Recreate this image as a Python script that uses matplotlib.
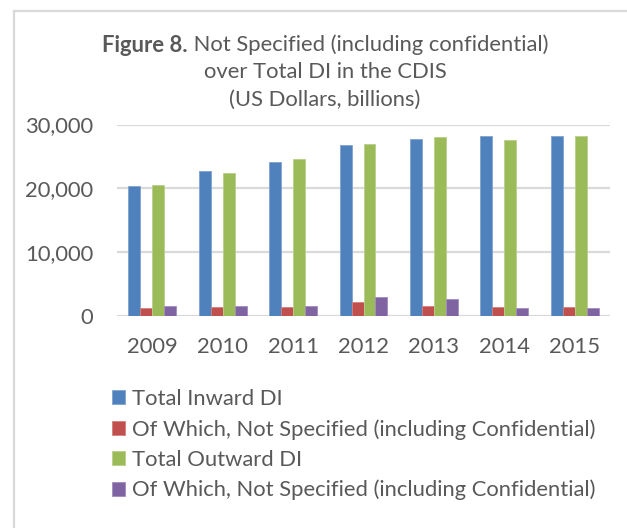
import numpy as np
import matplotlib
matplotlib.use('Agg')
import matplotlib.pyplot as plt
from matplotlib.lines import Line2D
from matplotlib.patches import Patch

# 数据 (US Dollars, billions)
years = ['2009', '2010', '2011', '2012', '2013', '2014', '2015']
total_inward = [20380, 22770, 24170, 26830, 27770, 28230, 28230]
inward_not_spec = [1150, 1360, 1360, 2140, 1510, 1360, 1360]
total_outward = [20580, 22400, 24600, 26980, 27970, 27560, 28230]
outward_not_spec = [1510, 1510, 1510, 2920, 2560, 1150, 1150]

series = [total_inward, inward_not_spec, total_outward, outward_not_spec]
labels = ['Total Inward DI',
          'Of Which, Not Specified (including Confidential)',
          'Total Outward DI',
          'Of Which, Not Specified (including Confidential)']
colors = ['#4F81BD', '#C0504D', '#9BBB59', '#8064A2']
edge_colors = ['#7FA3D1', '#D57F7C', '#B9D08A', '#A28DC0']

TEXT_COLOR = '#595959'
GRID_COLOR = '#D9D9D9'
FONT = 'Lato'
FS = 15.8

plt.rcParams['font.family'] = [FONT, 'DejaVu Sans']

W, H = 627, 528
fig = plt.figure(figsize=(W / 100, H / 100), dpi=100)
ax = fig.add_axes([117 / W, 1 - 315.7 / H, (610 - 117) / W, (315.7 - 124.5) / H])

x = np.arange(len(years))
bw = 0.17
for i, (vals, c, ec) in enumerate(zip(series, colors, edge_colors)):
    ax.bar(x + (i - 1.5) * bw, vals, width=bw, color=c, edgecolor=ec, linewidth=0.6, zorder=3)

ax.set_xlim(-0.5, len(years) - 0.5)
ax.set_ylim(0, 30000)
ax.set_yticks([0, 10000, 20000, 30000])
ax.set_yticklabels([f'{v:,}' for v in [0, 10000, 20000, 30000]])
ax.set_xticks(x)
ax.set_xticklabels(years)
ax.yaxis.grid(True, color=GRID_COLOR, linewidth=1.6, zorder=0)
ax.set_axisbelow(True)
for s in ax.spines.values():
    s.set_visible(False)
ax.tick_params(axis='both', length=0, labelsize=FS, colors=TEXT_COLOR)
ax.tick_params(axis='y', pad=17)
ax.tick_params(axis='x', pad=15)

# 标题 (第一行前半部分加粗)
fig.canvas.draw()
renderer = fig.canvas.get_renderer()
cx = 325 / W
y1 = 1 - 45 / H
t_bold = fig.text(0, y1, 'Figure 8.', fontsize=FS, fontweight='bold',
                  color=TEXT_COLOR, va='center', ha='left')
t_norm = fig.text(0, y1, ' Not Specified (including confidential)', fontsize=FS,
                  color=TEXT_COLOR, va='center', ha='left')
wb = t_bold.get_window_extent(renderer).width
wn = t_norm.get_window_extent(renderer).width
start = cx * W - (wb + wn) / 2
t_bold.set_x(start / W)
t_norm.set_x((start + wb) / W)
fig.text(cx, 1 - 72.5 / H, 'over Total DI in the CDIS', fontsize=FS,
         color=TEXT_COLOR, va='center', ha='center')
fig.text(cx, 1 - 100 / H, '(US Dollars, billions)', fontsize=FS,
         color=TEXT_COLOR, va='center', ha='center')

# 图例
handles = [Patch(facecolor=c, edgecolor=ec, linewidth=0.6) for c, ec in zip(colors, edge_colors)]
leg = fig.legend(handles, labels, loc='upper left', bbox_to_anchor=(112 / W, 1 - 389 / H),
                 frameon=False, fontsize=FS, handlelength=0.6, handleheight=0.6,
                 handletextpad=0.3, labelspacing=0.46, borderpad=0, borderaxespad=0)
for t in leg.get_texts():
    t.set_color(TEXT_COLOR)

# 外框 (截图中只见左边和上边)
fig.add_artist(Line2D([13.5 / W, 13.5 / W], [0, 1 - 11 / H], color=GRID_COLOR, linewidth=1.6))
fig.add_artist(Line2D([13.5 / W, 1], [1 - 11 / H, 1 - 11 / H], color=GRID_COLOR, linewidth=1.6))

fig.savefig('out.png', dpi=100)
